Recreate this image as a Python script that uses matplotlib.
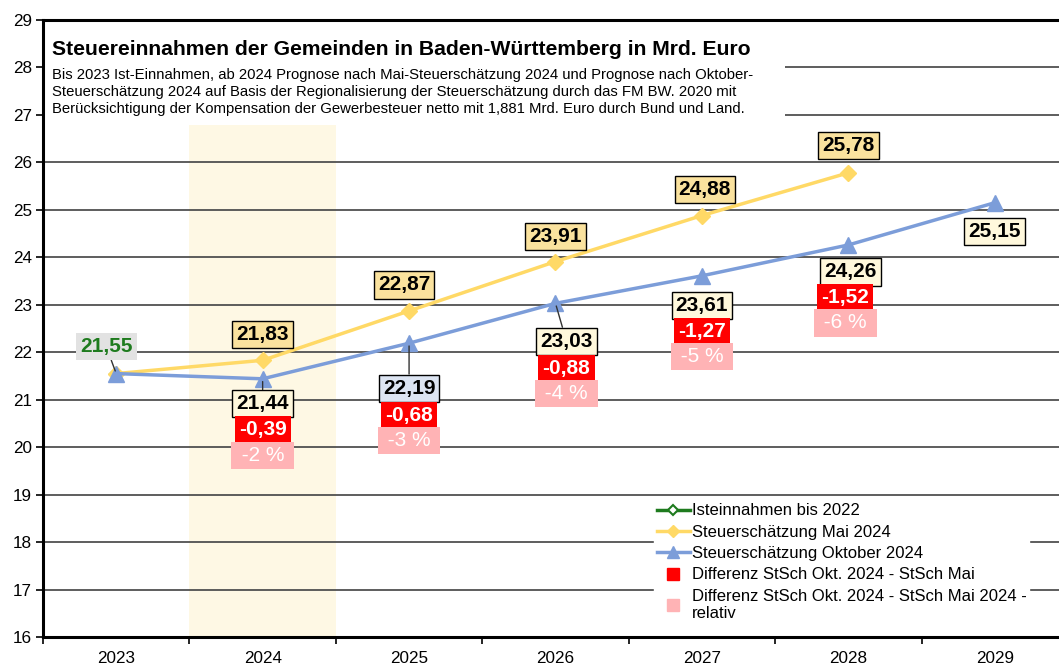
import matplotlib
matplotlib.use("Agg")
import matplotlib.pyplot as plt
from matplotlib.lines import Line2D
from matplotlib.patches import Rectangle

plt.rcParams['font.family'] = ['Liberation Sans', 'DejaVu Sans']

# ---- data ----
years = ['2023', '2024', '2025', '2026', '2027', '2028', '2029']
ist = [21.55]                                          # 2023
mai = [21.55, 21.83, 22.87, 23.91, 24.88, 25.78]       # 2023-2028
okt = [21.55, 21.44, 22.19, 23.03, 23.61, 24.26, 25.15]  # 2023-2029
diff_abs = [-0.39, -0.68, -0.88, -1.27, -1.52]         # 2024-2028
diff_pct = [-2, -3, -4, -5, -6]                         # 2024-2028

title = "Steuereinnahmen der Gemeinden in Baden-Württemberg in Mrd. Euro"
subtitle = ("Bis 2023 Ist-Einnahmen, ab 2024 Prognose nach Mai-Steuerschätzung 2024 und Prognose nach Oktober-\n"
            "Steuerschätzung 2024 auf Basis der Regionalisierung der Steuerschätzung durch das FM BW. 2020 mit\n"
            "Berücksichtigung der Kompensation der Gewerbesteuer netto mit 1,881 Mrd. Euro durch Bund und Land.")

# label offsets in pixels (dx, dy) relative to the point
mai_off = [(0, 26), (-5, 26), (0, 25), (3, 26), (0, 27)]      # 2024-2028
okt_off = [(0, -25), (0, -45), (11, -38), (0, -30), (2, -27), (0, -29)]  # 2024-2029
red_off = [(0, -51), (0, -72), (11, -65), (0, -56), (-3, -53)]
pink_off = [(0, -77), (0, -97), (11, -90), (0, -81), (-3, -78)]

C_MAI = '#FFD966'
C_OKT = '#7C9DD9'
C_IST = '#1E7B1E'

PX = 0.72  # pixel -> point at dpi 100

fig = plt.figure(figsize=(10.59, 6.64), dpi=100)
ax = fig.add_axes([43 / 1059, 27 / 664, 1025 / 1059, 617 / 664])

x = list(range(len(years)))
ax.axvspan(0.5, 1.5, color='#FEF8E4', zorder=0.2, lw=0)

ax.plot(x[:len(ist)], ist, color=C_IST, lw=2.5, marker='D', ms=6,
        mfc='white', mec=C_IST, mew=1.5, zorder=3)
ax.plot(x[:len(mai)], mai, color=C_MAI, lw=2.5, marker='D', ms=8, zorder=3)
ax.plot(x, okt, color=C_OKT, lw=2.5, marker='^', ms=11, zorder=4)

ax.set_xlim(-0.5, len(years) - 0.5)
ax.set_ylim(16, 29)
ax.set_yticks(range(16, 30))
ax.set_xticks(x)
ax.set_xticklabels(years)
ax.set_xticks([i - 0.5 for i in range(len(years) + 1)], minor=True)
ax.tick_params(axis='x', which='major', length=0, pad=10, labelsize=12.3)
ax.tick_params(axis='x', which='minor', length=5, width=1.2, direction='out')
ax.tick_params(axis='y', length=5, width=1.2, direction='out', labelsize=12.3, pad=3)
ax.grid(axis='y', color='#505050', lw=1.3)
ax.set_axisbelow(True)
for s in ['left', 'bottom', 'top']:
    ax.spines[s].set_linewidth(2.2)
ax.spines['right'].set_visible(False)


def fmt(v):
    return f"{v:.2f}".replace('.', ',')


def label(xi, yi, txt, off, fc, tc='black', ec='black', bold=True, line=False, size=15):
    ax.annotate(txt, (xi, yi), xytext=(off[0] * PX, off[1] * PX), textcoords='offset points',
                ha='center', va='center', fontsize=size, color=tc,
                fontweight='bold' if bold else 'normal', zorder=6,
                bbox=dict(boxstyle='square,pad=0.2', fc=fc, ec=ec, lw=1.0),
                arrowprops=dict(arrowstyle='-', color='#333333', lw=1.0,
                                shrinkA=0, shrinkB=2) if line else None)


# 2023 actual value
label(0, ist[0], fmt(ist[0]), (-10, 27), '#E2E2E2', tc=C_IST, ec='none', line=True)

for i in range(1, len(mai)):
    label(i, mai[i], fmt(mai[i]), mai_off[i - 1], '#FAE29E')

for i in range(1, len(okt)):
    fc = '#DCE4F2' if i == 2 else '#FFF8DC'
    label(i, okt[i], fmt(okt[i]), okt_off[i - 1], fc, line=i in (1, 2, 3))

for k, (d, p) in enumerate(zip(diff_abs, diff_pct)):
    i = k + 1
    label(i, okt[i], fmt(d), red_off[k], '#FF0000', tc='white', ec='none')
    label(i, okt[i], f" {p} % ", pink_off[k], '#FFB3B5', tc='white', ec='none', bold=False)

# title block with white background
ax.add_patch(Rectangle((0.002, 0.83), 0.722, 0.168, transform=ax.transAxes,
                       fc='white', ec='none', zorder=1))
ax.text(0.0088, 0.952, title, transform=ax.transAxes, fontsize=15.2, fontweight='bold',
        ha='left', va='center', zorder=2)
ax.text(0.0088, 0.923, subtitle, transform=ax.transAxes, fontsize=10.7,
        ha='left', va='top', linespacing=1.28, zorder=2)

handles = [
    Line2D([], [], color=C_IST, lw=2.5, marker='D', ms=5, mfc='white', mec=C_IST, mew=1.5),
    Line2D([], [], color=C_MAI, lw=2.5, marker='D', ms=6),
    Line2D([], [], color=C_OKT, lw=2.5, marker='^', ms=8),
    Line2D([], [], color='#FF0000', lw=0, marker='s', ms=8),
    Line2D([], [], color='#FFB3B5', lw=0, marker='s', ms=8),
]
names = ["Isteinnahmen bis 2022", "Steuerschätzung Mai 2024", "Steuerschätzung Oktober 2024",
         "Differenz StSch Okt. 2024 - StSch Mai",
         "Differenz StSch Okt. 2024 - StSch Mai 2024 -\nrelativ"]
leg = ax.legend(handles, names, loc='upper left', bbox_to_anchor=(0.588, 0.234),
                fontsize=12, frameon=True, fancybox=False, framealpha=1,
                edgecolor='white', facecolor='white', handlelength=2.0,
                handletextpad=0.1, labelspacing=0.38, borderpad=0.15)
leg.set_zorder(7)

fig.savefig("out.png", dpi=100)
